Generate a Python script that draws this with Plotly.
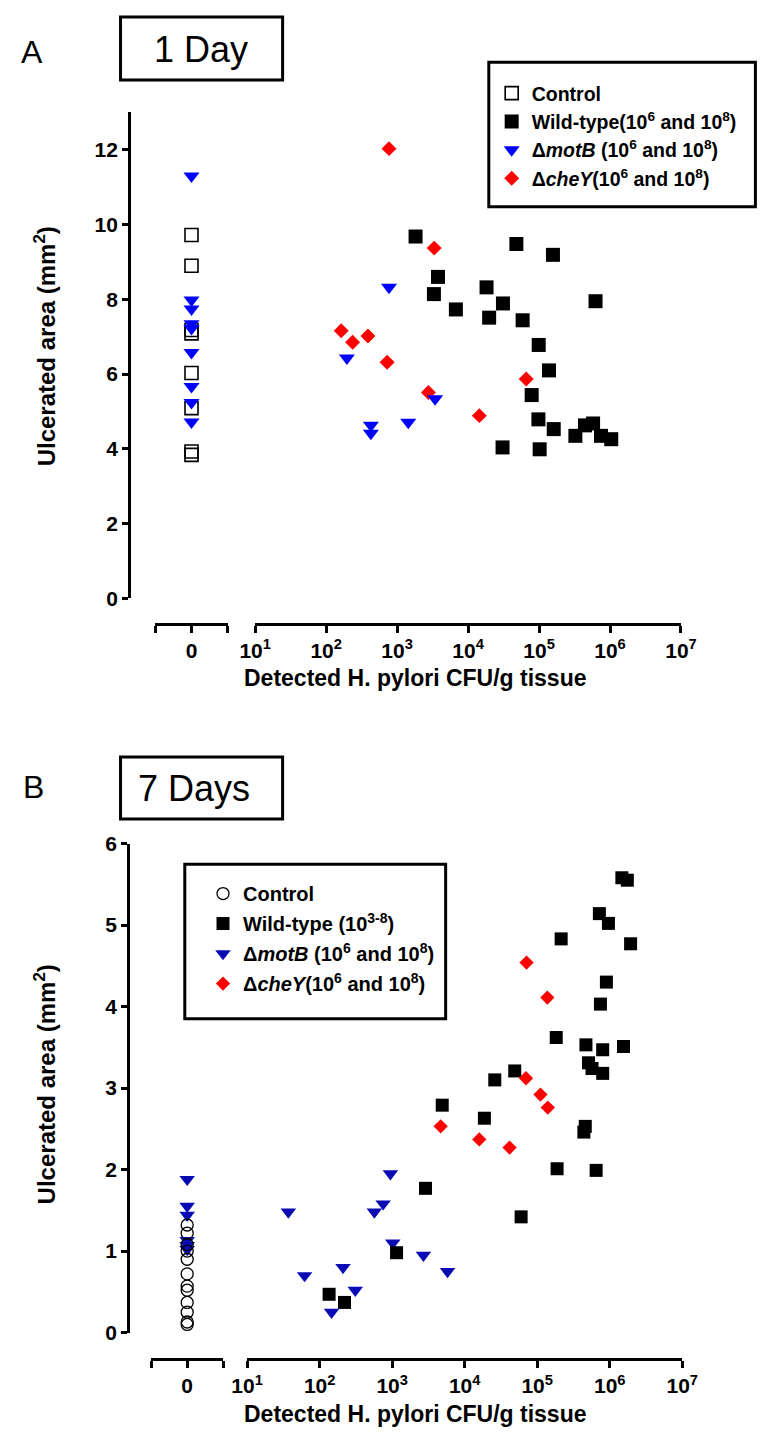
import plotly.graph_objects as go

W, H = 781, 1442
def px(x): return x / W
def py(y): return 1 - y / H

# ---------------- Panel A (1 Day) data ----------------
ctrl_A_y = [9.72, 8.90, 7.18, 7.09, 6.03, 5.09, 3.93, 3.84]
motB_A0_y = [11.30, 7.98, 7.74, 7.35, 7.22, 6.58, 5.67, 5.24, 4.72]
motB_A_x = [196, 427, 427, 769, 1435, 3430]
motB_A_y = [6.43, 4.63, 4.42, 8.32, 4.71, 5.34]
cheY_A_x = [769, 163, 236, 388, 723, 3330, 2760, 14400, 65900]
cheY_A_y = [12.03, 7.16, 6.85, 7.02, 6.32, 9.37, 5.51, 4.89, 5.87]
wt_A_x = [1820, 47900, 157000, 3770, 3300, 18200, 6730, 31000, 19800, 58700,
          625000, 98900, 138000, 78700, 97900, 161000, 30600, 102000, 325000,
          444000, 577000, 746000, 1040000]
wt_A_y = [9.68, 9.48, 9.19, 8.60, 8.14, 8.32, 7.73, 7.89, 7.51, 7.44,
          7.95, 6.78, 6.10, 5.44, 4.79, 4.53, 4.04, 3.99, 4.35,
          4.63, 4.68, 4.35, 4.26]

# ---------------- Panel B (7 Days) data ----------------
ctrl_B_y = [1.32, 1.22, 1.08, 1.00, 0.90, 0.72, 0.57, 0.52, 0.37, 0.25, 0.13, 0.10]
motB_B0_y = [1.88, 1.55, 1.44, 1.13, 1.07, 1.02]
motB_B_x = [37, 946, 751, 568, 62, 210, 146, 310, 1020, 2700, 5800]
motB_B_y = [1.48, 1.95, 1.58, 1.48, 0.70, 0.80, 0.25, 0.52, 1.10, 0.95, 0.75]
cheY_B_x = [71300, 138000, 70000, 111000, 140000, 4660, 15900, 41600]
cheY_B_y = [4.54, 4.11, 3.12, 2.92, 2.76, 2.53, 2.37, 2.27]
wt_B_x = [1.47e6, 1.75e6, 7.2e5, 9.6e5, 2.14e5, 1.94e6, 9.0e5, 7.45e5, 1.83e5, 4.7e5,
          8.0e5, 1.55e6, 5.1e5, 5.7e5, 8.0e5, 4.9e4, 2.6e4, 4.9e3, 1.87e4, 4.6e5,
          4.4e5, 1.88e5, 6.5e5, 6.0e4, 2.88e3, 1.15e3, 1.35e2, 2.2e2]
wt_B_y = [5.58, 5.55, 5.14, 5.02, 4.83, 4.77, 4.30, 4.03, 3.62, 3.53,
          3.47, 3.51, 3.31, 3.24, 3.18, 3.21, 3.10, 2.79, 2.63, 2.53,
          2.46, 2.01, 1.99, 1.42, 1.77, 0.98, 0.47, 0.37]

# ---------------- axis tick labels ----------------
log_tickvals = [10, 100, 1e3, 1e4, 1e5, 1e6, 1e7]
log_ticktext = ["10<sup>1</sup>", "10<sup>2</sup>", "10<sup>3</sup>", "10<sup>4</sup>",
                "10<sup>5</sup>", "10<sup>6</sup>", "10<sup>7</sup>"]
zero_tickvals = [-1, 0, 1]
zero_ticktext = ["", "0", ""]
yA_ticks = [0, 2, 4, 6, 8, 10, 12]
yB_ticks = [0, 1, 2, 3, 4, 5, 6]

leg_A = ["Control",
         "Wild-type(10<sup>6</sup> and 10<sup>8</sup>)",
         "Δ<i>motB</i> (10<sup>6</sup> and 10<sup>8</sup>)",
         "Δ<i>cheY</i>(10<sup>6</sup> and 10<sup>8</sup>)"]
leg_B = ["Control",
         "Wild-type (10<sup>3-8</sup>)",
         "Δ<i>motB</i> (10<sup>6</sup> and 10<sup>8</sup>)",
         "Δ<i>cheY</i>(10<sup>6</sup> and 10<sup>8</sup>)"]

FONT = "Liberation Sans, Arial, sans-serif"
BLUE_A = "#0000FF"
BLUE_B = "#0A0AB4"
RED = "#FF0000"

fig = go.Figure()

def add(x, y, xa, ya, name, symbol, size, color, legend, rank, show=True,
        open_=False, lw=1.5):
    marker = dict(symbol=symbol, size=size, color=color)
    if open_:
        marker["line"] = dict(color=color, width=lw)
    fig.add_trace(go.Scatter(
        x=x, y=y, xaxis=xa, yaxis=ya, mode="markers", name=name,
        marker=marker, showlegend=show, legend=legend, legendrank=rank,
        legendgroup=legend + name, cliponaxis=False, hoverinfo="skip"))

# Panel A traces
add([0] * len(ctrl_A_y), ctrl_A_y, "x", "y", leg_A[0], "square-open", 13, "black", "legend", 1, open_=True, lw=1.6)
add(wt_A_x, wt_A_y, "x2", "y", leg_A[1], "square", 14, "black", "legend", 2)
add(cheY_A_x, cheY_A_y, "x2", "y", leg_A[3], "diamond", 11.5, RED, "legend", 4)
add([0] * len(motB_A0_y), motB_A0_y, "x", "y", leg_A[2], "triangle-down", 14, BLUE_A, "legend", 3)
add(motB_A_x, motB_A_y, "x2", "y", leg_A[2], "triangle-down", 14, BLUE_A, "legend", 3, show=False)

# Panel B traces
add([0] * len(motB_B0_y), motB_B0_y, "x3", "y2", leg_B[2], "triangle-down", 13.5, BLUE_B, "legend2", 3)
add(motB_B_x, motB_B_y, "x4", "y2", leg_B[2], "triangle-down", 13.5, BLUE_B, "legend2", 3, show=False)
add([0] * len(ctrl_B_y), ctrl_B_y, "x3", "y2", leg_B[0], "circle-open", 12, "black", "legend2", 1, open_=True, lw=1.3)
add(wt_B_x, wt_B_y, "x4", "y2", leg_B[1], "square", 13, "black", "legend2", 2)
add(cheY_B_x, cheY_B_y, "x4", "y2", leg_B[3], "diamond", 11, RED, "legend2", 4)

tickfont = dict(family=FONT, size=21, color="black", weight="bold")
common_x = dict(showline=True, linewidth=3, linecolor="black", ticks="outside",
                ticklen=7, tickwidth=2.5, tickcolor="black", showgrid=False,
                zeroline=False, tickfont=tickfont, anchor="free", fixedrange=True)
common_y = dict(showline=True, linewidth=3, linecolor="black", ticks="outside",
                ticklen=6, tickwidth=2.5, tickcolor="black", showgrid=False,
                zeroline=False, tickfont=tickfont, anchor="free", fixedrange=True)

fig.update_layout(
    width=W, height=H, margin=dict(l=0, r=0, t=0, b=0),
    paper_bgcolor="white", plot_bgcolor="rgba(0,0,0,0)",
    font=dict(family=FONT, color="black"),
    xaxis=dict(common_x, domain=[px(145), px(221)], range=[-1, 1],
               tickvals=zero_tickvals, ticktext=zero_ticktext, position=py(622)),
    xaxis2=dict(common_x, type="log", domain=[px(249.4), px(693.4)], range=[1, 7],
                tickvals=log_tickvals, ticktext=log_ticktext, position=py(622)),
    yaxis=dict(common_y, domain=[py(596), py(102)], range=[0, 13],
               tickvals=yA_ticks, position=px(118)),
    xaxis3=dict(common_x, domain=[px(141), px(216)], range=[-1, 1],
                tickvals=zero_tickvals, ticktext=zero_ticktext, position=py(1369)),
    xaxis4=dict(common_x, type="log", domain=[px(241), px(694.7)], range=[1, 7],
                tickvals=log_tickvals, ticktext=log_ticktext, position=py(1369)),
    yaxis2=dict(common_y, domain=[py(1342), py(845)], range=[0, 6],
                tickvals=yB_ticks, position=px(117)),
    legend=dict(x=px(496), y=py(63), xanchor="left", yanchor="top",
                bgcolor="rgba(0,0,0,0)", borderwidth=0, tracegroupgap=0,
                font=dict(family=FONT, size=19.5, color="black", weight="bold"),
                itemclick=False, itemdoubleclick=False),
    legend2=dict(x=px(195), y=py(876), xanchor="left", yanchor="top",
                 bgcolor="rgba(0,0,0,0)", borderwidth=0, tracegroupgap=1,
                 font=dict(family=FONT, size=20, color="black", weight="bold"),
                 itemclick=False, itemdoubleclick=False),
)

# boxes (title boxes and legend frames)
def rect(x0, y0, x1, y1):
    fig.add_shape(type="rect", xref="paper", yref="paper",
                  x0=px(x0), x1=px(x1), y0=py(y0), y1=py(y1),
                  line=dict(color="black", width=3), fillcolor="rgba(0,0,0,0)")

rect(109, 5, 278, 69)
rect(109, 757, 278, 820)
rect(493, 51, 771, 198)
rect(176, 866, 448, 1023)

def text(x, y, s, size, bold=False, angle=0, xanchor="center"):
    fig.add_annotation(xref="paper", yref="paper", x=px(x), y=py(y), text=s,
                       showarrow=False, xanchor=xanchor, yanchor="middle",
                       textangle=angle,
                       font=dict(family=FONT, size=size, color="black",
                                 weight="bold" if bold else "normal"))

text(17, 41, "A", 32)
text(18, 788, "B", 32)
text(193, 38, "1 Day", 36)
text(125, 789, "7 Days", 36, xanchor="left")
text(30, 340, "Ulcerated area (mm<sup>2</sup>)", 24, bold=True, angle=-90)
text(30, 1090, "Ulcerated area (mm<sup>2</sup>)", 24, bold=True, angle=-90)
text(417, 677, "Detected H. pylori CFU/g tissue", 23, bold=True)
text(417, 1425, "Detected H. pylori CFU/g tissue", 23, bold=True)

fig.write_html("out.html", config={"displayModeBar": False},
               post_script="document.body.style.margin='0px';document.body.style.overflow='hidden';")
